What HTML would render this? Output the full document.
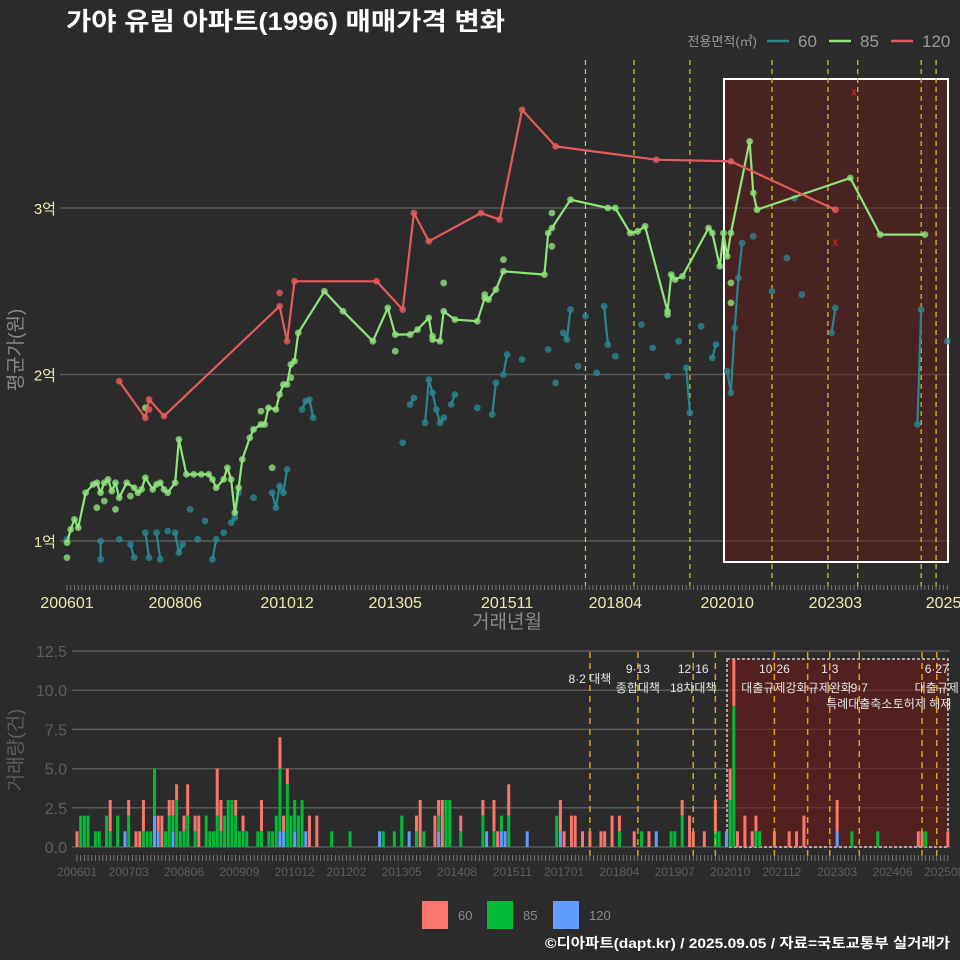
<!DOCTYPE html>
<html><head><meta charset="utf-8">
<style>
html,body{margin:0;padding:0;background:#2b2b2b;}
svg{display:block;font-family:"Liberation Sans","Noto Sans CJK KR",sans-serif;}
</style></head>
<body>
<svg id="chart" width="960" height="960" viewBox="0 0 960 960" xmlns="http://www.w3.org/2000/svg">
<rect x="0" y="0" width="960" height="960" fill="#2b2b2b"/>
<text x="66" y="30" fill="#ffffff" font-size="25" font-weight="bold" textLength="439" lengthAdjust="spacingAndGlyphs">가야 유림 아파트(1996) 매매가격 변화</text>
<g id="topPanel"></g>
<g id="botPanel"></g>
<text x="950" y="948" text-anchor="end" fill="#ffffff" font-size="14" font-weight="bold" textLength="405" lengthAdjust="spacingAndGlyphs">©디아파트(dapt.kr) / 2025.09.05 / 자료=국토교통부 실거래가</text>
</svg>
<script>
// ---- data (month index = months since 2006-01; price in 억) ----
const xTickLabelsTop = ["200601","200806","201012","201305","201511","201804","202010","202303","2025"];
const xTickMonthsTop = [0,29,59,88,118,147,177,206,235];
const yTickValues = [1,2,3];
const yTickLabels = ["1억","2억","3억"];
const m120 = [14,21,22,26,57,59,61,83,90,93,97,111,116,122,131,158,178,206];
const v120 = [1.96,1.74,1.85,1.75,2.41,2.20,2.56,2.56,2.39,2.97,2.80,2.97,2.93,3.59,3.37,3.29,3.28,2.99];
const m120extra = [57,22];
const v120extra = [2.49,1.79];
const m85 = [0,1,2,3,5,7,8,9,10,11,12,13,14,16,18,19,20,21,23,24,25,26,27,29,30,32,34,36,38,39,40,42,43,44,45,46,47,49,50,52,53,54,56,57,58,59,60,61,62,69,74,82,86,88,92,94,97,98,100,101,104,110,112,113,115,117,128,129,130,135,145,147,151,153,155,161,162,163,165,172,173,175,176,177,178,183,184,185,210,218,230];
const v85 = [0.99,1.07,1.13,1.08,1.29,1.34,1.35,1.29,1.35,1.37,1.30,1.35,1.26,1.35,1.32,1.29,1.31,1.38,1.31,1.34,1.35,1.31,1.29,1.35,1.61,1.40,1.40,1.40,1.40,1.37,1.32,1.37,1.44,1.37,1.17,1.32,1.49,1.62,1.67,1.70,1.70,1.80,1.79,1.88,1.94,1.94,2.06,2.08,2.25,2.50,2.38,2.20,2.40,2.24,2.24,2.27,2.34,2.21,2.20,2.38,2.33,2.32,2.46,2.45,2.51,2.62,2.60,2.85,2.88,3.05,3.00,3.00,2.85,2.86,2.89,2.38,2.60,2.57,2.59,2.88,2.85,2.65,2.85,2.71,2.85,3.40,3.09,2.99,3.18,2.84,2.84];
const m85extra = [0,8,13,21,55,88,161,101,117,130,130,178,178,10,17,52,60,98,112];
const v85extra = [0.90,1.20,1.19,1.80,1.44,2.14,2.36,2.55,2.69,2.97,2.77,2.55,2.43,1.24,1.27,1.78,1.98,2.23,2.48];
const m60 = [0,9,9,14,17,18,21,22,24,25,27,29,30,31,33,35,37,39,40,42,44,45,46,50,55,56,57,58,59,63,64,65,66,90,92,93,96,97,98,99,100,101,103,104,110,114,115,117,118,122,129,131,133,134,135,137,139,142,144,145,147,154,157,161,164,166,167,170,173,174,177,178,179,180,181,184,189,193,195,197,205,206,228,229,236];
const v60 = [1.01,1.00,0.89,1.01,0.98,0.90,1.05,0.90,1.05,0.89,1.06,1.05,0.93,0.98,1.19,1.01,1.12,0.89,1.01,1.05,1.11,1.14,1.29,1.26,1.29,1.20,1.33,1.29,1.43,1.79,1.84,1.85,1.74,1.59,1.82,1.86,1.71,1.97,1.89,1.79,1.71,1.74,1.82,1.88,1.80,1.76,1.95,2.00,2.12,2.09,2.15,1.95,2.25,2.21,2.39,2.05,2.35,2.01,2.41,2.18,2.11,2.30,2.16,1.99,2.20,2.04,1.77,2.29,2.10,2.18,2.02,1.89,2.28,2.58,2.79,2.83,2.50,2.70,3.06,2.48,2.25,2.40,1.70,2.39,2.20];
const mCancel = [211,206];
const vCancel = [3.70,2.80];
// volume panel
const xTickLabelsBot = ["200601","200703","200806","200909","201012","201202","201305","201408","201511","201701","201804","201907","202010","202112","202303","202406","202508"];
const xTickMonthsBot = [0,14,29,44,59,73,88,103,118,132,147,162,177,191,206,221,235];
const yTickBot = [0,2.5,5,7.5,10,12.5];
const barMonths = [0,1,2,3,5,6,8,9,11,13,14,16,17,18,19,20,21,22,23,24,25,26,27,28,29,30,32,33,35,36,37,38,39,40,41,42,43,44,45,46,49,50,52,53,54,55,56,57,58,59,60,61,62,63,65,69,74,82,83,86,88,90,92,93,94,97,98,99,100,101,104,110,111,113,114,115,116,117,122,130,131,132,134,135,137,139,142,143,145,147,151,153,155,157,161,162,164,166,167,170,173,174,176,177,178,179,181,183,184,185,189,193,195,197,206,210,217,228,229,230,236];
const bar60 =  [1,0,0,0,0,0,0,2,0,0,1,1,1,2,0,0,0,1,2,0,1,1,1,0,1,2,1,2,0,0,0,3,2,0,0,0,1,0,1,0,0,2,0,0,0,2,1,1,0,0,0,0,0,2,2,0,0,0,0,0,0,0,1,3,0,2,1,3,0,0,1,1,0,2,1,0,0,2,0,0,2,1,2,2,1,1,1,1,2,1,1,0,1,0,0,0,1,2,1,1,2,0,0,2,3,1,2,1,1,0,1,1,1,2,2,0,0,1,1,0,1];
const bar85 =  [0,2,2,2,1,1,2,1,2,0,2,0,0,1,1,1,3,0,0,1,2,1,3,1,1,2,1,0,2,1,1,2,1,2,3,3,2,1,1,1,1,1,1,1,2,4,0,4,2,2,2,3,0,0,0,1,1,0,1,1,2,0,1,0,1,0,1,0,3,3,1,2,0,1,0,1,0,2,0,2,0,0,0,0,0,0,0,0,0,1,0,1,0,0,1,1,2,0,0,0,1,1,0,3,9,0,0,0,1,1,0,0,0,0,0,1,1,0,0,1,0];
const bar120 = [0,0,0,0,0,0,0,0,0,1,0,0,0,0,0,0,2,1,0,0,0,1,0,0,0,0,0,0,0,0,0,0,0,0,0,0,0,0,0,0,0,0,0,0,0,1,1,0,0,1,0,0,1,0,0,0,0,1,0,0,0,1,0,0,0,0,1,0,0,0,0,0,1,0,0,1,1,0,1,0,1,0,0,0,0,0,0,0,0,0,0,0,0,1,0,0,0,0,0,0,0,0,1,0,0,0,0,0,0,0,0,0,0,0,1,0,0,0,0,0,0];
const policyMonths = [139,152,167,173,189,198,204,212,229,233];
const policyTop = ["","9·13","12·16","","10·26","","1·3","","","6·27"];
const policyBottom = ["8·2 대책","종합대책","18차대책","","대출규제강화","","규제완화","9·7","","대출규제"];
const policyThird = ["","","","","","","","특례대출축소","토허제 해제",""];

const NS="http://www.w3.org/2000/svg";
function mk(parent,tag,attrs,text){const e=document.createElementNS(NS,tag);for(const k in attrs)e.setAttribute(k,attrs[k]);if(text!==undefined)e.textContent=text;parent.appendChild(e);return e;}
const topG=document.getElementById('topPanel'), botG=document.getElementById('botPanel');
// ---- top axes ----
const X=m=>67+m*3.73;
const Y=v=>541-(v-1)*166.5;
const topL=60, topR=950;
yTickValues.forEach((v,i)=>{
 const g=mk(topG,'line',{x1:topL,x2:topR,y1:Y(v),y2:Y(v),stroke:'#5a5a5a','stroke-width':1.5});
  
 const t=mk(topG,'text',{x:56,y:Y(v)+6,'text-anchor':'end',fill:'#f0eab0','font-size':15},yTickLabels[i]);
  
});
const hb=mk(topG,'rect',{x:724,y:79,width:224,height:483,fill:'rgba(110,25,25,0.45)',stroke:'#ffffff','stroke-width':2});
 
policyMonths.forEach(m=>{ if(m===173||m===198) return;
 const l=mk(topG,'line',{x1:X(m),x2:X(m),y1:60,y2:590,stroke:'#d8d020','stroke-width':1.2,'stroke-dasharray':'5,4'});
  
});
for(let m=0;m<=236;m++){const t=mk(topG,'line',{x1:X(m),x2:X(m),y1:585,y2:590,stroke:'#888','stroke-width':0.8});
  }
xTickLabelsTop.forEach((s,i)=>{const t=mk(topG,'text',{x:X(xTickMonthsTop[i]),y:608,'text-anchor':'middle',fill:'#f0eab0','font-size':16},s);
  });
let t1=mk(topG,'text',{x:507,y:628,'text-anchor':'middle',fill:'#8a8a8a','font-size':19},'거래년월');
 
let t2=mk(topG,'text',{x:0,y:0,transform:'translate(22,350) rotate(-90)','text-anchor':'middle',fill:'#8a8a8a','font-size':19},'평균가(원)');
 
function drawLine(ms,vs,color,name,breakGap){
 let d='';
 ms.forEach((m,i)=>{const cmd=(i===0||(breakGap&&m-ms[i-1]>breakGap))?'M':'L';d+=cmd+X(m).toFixed(1)+','+Y(vs[i]).toFixed(1)+' ';});
 const p=mk(topG,'path',{d:d,fill:'none',stroke:color,'stroke-width':2.2,'stroke-linejoin':'round'});
  
}
function drawPts(ms,vs,color,name){
 ms.forEach((m,i)=>{const c=mk(topG,'circle',{cx:X(m),cy:Y(vs[i]),r:3.4,fill:color,'fill-opacity':0.8});
  });
}
drawLine(m60,v60,'#2a8790','series-60',1); drawPts(m60,v60,'#2a8790','series-60');
drawLine(m85,v85,'#8fe47c','series-85'); drawPts(m85,v85,'#8fe47c','series-85'); drawPts(m85extra,v85extra,'#8fe47c','series-85-extra');
drawLine(m120,v120,'#e35c5c','series-120'); drawPts(m120,v120,'#e35c5c','series-120'); drawPts(m120extra,v120extra,'#e35c5c','series-120-extra');
mCancel.forEach((m,i)=>{const c=mk(topG,'text',{x:X(m),y:Y(vCancel[i])+4,'text-anchor':'middle',fill:'#ff2020','font-size':11},'x');
  });
let lt=mk(topG,'text',{x:757,y:46,'text-anchor':'end',fill:'#9a9a9a','font-size':13},'전용면적(㎡)');
 
[['60','#2a8790',767],['85','#8fe47c',829],['120','#e35c5c',891]].forEach(a=>{
 const l=mk(topG,'line',{x1:a[2],x2:a[2]+22,y1:41,y2:41,stroke:a[1],'stroke-width':2.5});
  
 const t=mk(topG,'text',{x:a[2]+31,y:47,fill:'#9a9a9a','font-size':17},a[0]);
  
});
// ---- bottom ----
const BX=m=>77+m*3.69;
const BY=v=>847-v*15.68;
yTickBot.forEach(v=>{
 const g=mk(botG,'line',{x1:72,x2:950,y1:BY(v),y2:BY(v),stroke:'#5a5a5a','stroke-width':1.5});
  
 const t=mk(botG,'text',{x:67,y:BY(v)+6,'text-anchor':'end',fill:'#5e5e5e','font-size':16},v.toFixed(1));
  
});
const bb=mk(botG,'rect',{x:727,y:659,width:221,height:188,fill:'rgba(110,25,25,0.6)',stroke:'#cccccc','stroke-width':1.5,'stroke-dasharray':'3,2'});
 
barMonths.forEach((m,i)=>{
 let base=0;
 [[bar120[i],'#619cff','bar-120'],[bar85[i],'#00ba38','bar-85'],[bar60[i],'#f8766d','bar-60']].forEach(s=>{
  if(s[0]>0){const r=mk(botG,'rect',{x:BX(m)-1.5,y:BY(base+s[0]),width:3,height:BY(base)-BY(base+s[0]),fill:s[1]});
     base+=s[0];}
 });
});
policyMonths.forEach((m,i)=>{
 const l=mk(botG,'line',{x1:BX(m),x2:BX(m),y1:652,y2:860,stroke:'#e0a020','stroke-width':1.5,'stroke-dasharray':'6,5'});
  
 if(policyTop[i]){const t=mk(botG,'text',{x:BX(m),y:673,'text-anchor':'middle',fill:'#e6e6e6','font-size':12},policyTop[i]);
   }
 if(policyBottom[i]){const yy=i===0?683:692;const t=mk(botG,'text',{x:BX(m),y:yy,'text-anchor':'middle',fill:'#e6e6e6','font-size':12},policyBottom[i]);
   }
 if(policyThird[i]){const t=mk(botG,'text',{x:BX(m),y:708,'text-anchor':'middle',fill:'#e6e6e6','font-size':12},policyThird[i]);
   }
});
for(let m=0;m<=236;m++){const t=mk(botG,'line',{x1:BX(m),x2:BX(m),y1:855,y2:861,stroke:'#888','stroke-width':0.8});
  }
xTickLabelsBot.forEach((s,i)=>{const t=mk(botG,'text',{x:BX(xTickMonthsBot[i]),y:876,'text-anchor':'middle',fill:'#5e5e5e','font-size':12},s);
  });
let t3=mk(botG,'text',{x:0,y:0,transform:'translate(22,750) rotate(-90)','text-anchor':'middle',fill:'#5e5e5e','font-size':19},'거래량(건)');
 
[['60','#f8766d',422],['85','#00ba38',487],['120','#619cff',553]].forEach(a=>{
 const r=mk(botG,'rect',{x:a[2],y:901,width:26,height:28,fill:a[1]});
  
 const t=mk(botG,'text',{x:a[2]+36,y:920,fill:'#8a8a8a','font-size':13},a[0]);
  
});
</script>
</body></html>
